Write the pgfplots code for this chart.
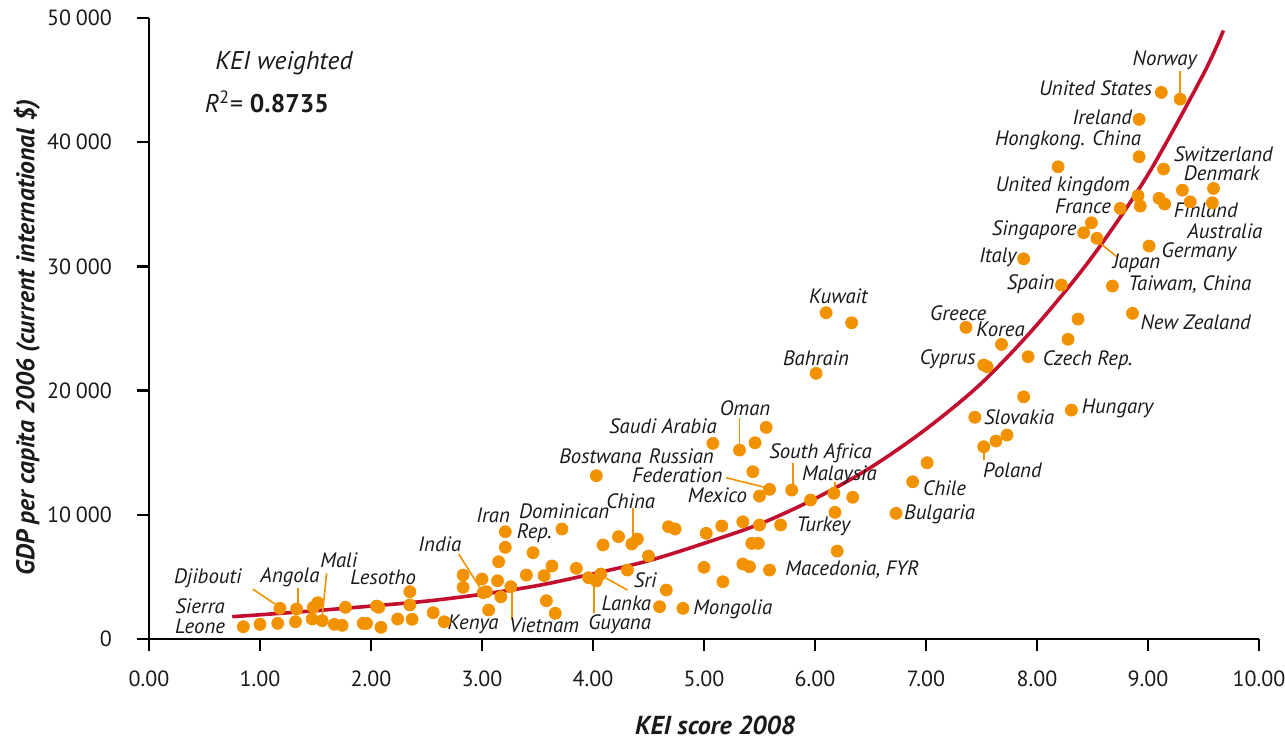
\documentclass[border=0pt]{standalone}
\usepackage{fontspec}
\setmainfont{PT Sans}
\usepackage{pgfplots}
\pgfplotsset{compat=1.18}
\definecolor{dot}{HTML}{F39200}
\definecolor{trend}{HTML}{C20E2F}
\definecolor{txt}{HTML}{1A1A1A}
\pgfplotstableread{
x y
0.85 990
1.00 1180
1.16 1260
1.18 2470
1.32 1390
1.33 2415
1.47 1610
1.48 2550
1.52 2920
1.56 1475
1.67 1180
1.74 1100
1.77 2550
1.93 1260
1.96 1260
2.05 2650
2.07 2550
2.09 940
2.24 1610
2.35 3810
2.35 2740
2.37 1585
2.56 2120
2.66 1390
2.83 5150
2.83 4160
3.00 4830
3.01 3730
3.04 3810
3.06 2330
3.14 4690
3.15 6220
3.17 3400
3.21 7380
3.21 8640
3.26 4210
3.40 5150
3.46 6950
3.56 5100
3.58 3080
3.63 5880
3.66 2070
3.72 8855
3.85 5690
3.96 4935
4.03 4670
4.07 5230
4.09 7570
4.23 8240
4.31 5550
4.35 7650
4.40 8050
4.50 6680
4.60 2600
4.66 3940
4.68 9040
4.74 8855
4.81 2470
5.00 5770
5.02 8510
5.17 4610
5.16 9100
5.35 9440
5.35 6040
5.41 5820
5.43 7700
5.49 7700
5.50 9180
5.59 5550
5.69 9180
5.08 15750
5.32 15210
5.46 15800
5.56 17040
5.44 13470
5.59 12050
5.50 11510
5.79 11990
5.96 11190
6.17 11730
6.34 11410
6.18 10200
6.20 7080
6.73 10120
6.88 12660
7.01 14190
6.10 26270
6.33 25460
6.01 21390
4.03 13150
8.22 28500
8.68 28420
8.37 25760
8.86 26220
7.36 25090
7.68 23720
8.28 24130
7.52 22060
7.55 21920
7.92 22730
7.88 19500
8.31 18430
7.44 17850
7.73 16420
7.63 15940
7.52 15480
9.12 44010
9.29 43470
8.92 41840
8.92 38830
8.19 38020
9.14 37840
8.91 35690
8.93 34860
9.10 35480
9.15 35020
9.31 36140
9.59 36280
9.38 35200
9.58 35120
8.75 34670
8.49 33510
8.42 32710
8.54 32260
9.01 31640
7.88 30610
}\countries
\begin{document}
\begin{tikzpicture}[lab/.style={font=\fontsize{10.4}{12}\selectfont\itshape, text=txt, inner sep=0pt},
  lead/.style={dot, line width=0.8pt}]
\useasboundingbox (-74.5pt,-50pt) rectangle (568pt,319.5pt);
\begin{axis}[
  at={(0pt,0pt)}, anchor=south west,
  scale only axis, width=555pt, height=310.5pt,
  xmin=0, xmax=10, ymin=0, ymax=50000,
  axis lines=left, axis line style={-, line width=1.2pt, black},
  xtick={0,1,...,10}, ytick={0,10000,20000,30000,40000,50000},
  tick align=outside, major tick length=6pt,
  tick style={line width=1.2pt, black},
  scaled y ticks=false, scaled x ticks=false,
  /pgf/number format/assume math mode=true,
  xticklabel={\pgfmathprintnumber[fixed, fixed zerofill, precision=2]{\tick}},
  yticklabel={\pgfmathprintnumber[fixed, precision=0, 1000 sep={\hspace{0.22em}}]{\tick}},
  xticklabel style={anchor=north, yshift=-6.5pt},
  yticklabel style={anchor=east, xshift=-9pt},
  ticklabel style={font=\fontsize{11}{13}\selectfont, text=txt},
  xlabel={\bfseries\itshape KEI score 2008},
  ylabel={\bfseries\itshape GDP per capita 2006 (current international \$)},
  xlabel style={at={(axis description cs:0.51,-0.1385)}, anchor=center, inner sep=0pt, font=\fontsize{13}{15}\selectfont, text=txt},
  ylabel style={at={(axis description cs:-0.110,0.485)}, anchor=center, inner sep=0pt, rotate=0, font=\fontsize{12.8}{15}\selectfont, text=txt},
  clip=false,
]
\addplot[trend, line width=1.8pt, smooth, no marks] coordinates {
(0.75,1800) (1.0,1950) (1.5,2280) (2.0,2650) (2.5,3050) (3.0,3600) (3.5,4300) (4.0,5250) (4.5,6300) (5.0,7700) (5.5,9250) (6.0,11300) (6.5,13800) (7.0,16900) (7.5,20600) (8.0,25300) (8.5,30800) (9.0,37400) (9.5,45500) (9.68,49000)};
\addplot[only marks, color=dot, mark=*, mark size=3.0pt, mark options={draw=dot, fill=dot, line width=0.4pt}] table[x=x, y=y] {\countries};

% leader lines
\draw[lead] (axis cs:9.29,45750) -- (axis cs:9.29,44000);
\draw[lead] (axis cs:8.57,31850) -- (axis cs:8.72,30780);
\draw[lead] (axis cs:7.52,15080) -- (axis cs:7.52,14410);
\draw[lead] (axis cs:5.32,17770) -- (axis cs:5.32,15620);
\draw[lead] (axis cs:5.20,12985) -- (axis cs:5.55,12210);
\draw[lead] (axis cs:5.80,14190) -- (axis cs:5.80,12400);
\draw[lead] (axis cs:6.18,12660) -- (axis cs:6.18,12130);
\draw[lead] (axis cs:4.36,10520) -- (axis cs:4.36,7970);
\draw[lead] (axis cs:2.79,6840) -- (axis cs:2.98,4160);
\draw[lead] (axis cs:3.27,3810) -- (axis cs:3.27,1530);
\draw[lead] (axis cs:4.01,4750) -- (axis cs:4.01,2120);
\draw[lead] (axis cs:4.12,4890) -- (axis cs:4.31,3940);
\draw[lead] (axis cs:1.60,5290) -- (axis cs:1.56,1750);
\draw[lead] (axis cs:1.34,4080) -- (axis cs:1.34,2870);
\draw[lead] (axis cs:0.934,4025) -- (axis cs:1.135,2820);

% labels
\node[lab, anchor=center] at (axis cs:9.15,46600) {Norway};
\node[lab, anchor=east] at (axis cs:9.04,44350) {United States};
\node[lab, anchor=east] at (axis cs:8.86,42000) {Ireland};
\node[lab, anchor=center] at (axis cs:8.28,40170) {Hongkong. China};
\node[lab, anchor=west] at (axis cs:9.23,39040) {Switzerland};
\node[lab, anchor=west] at (axis cs:9.32,37510) {Denmark};
\node[lab, anchor=east] at (axis cs:8.84,36410) {United kingdom};
\node[lab, anchor=east] at (axis cs:8.67,34800) {France};
\node[lab, anchor=west] at (axis cs:9.23,34500) {Finland};
\node[lab, anchor=west] at (axis cs:9.35,32850) {Australia};
\node[lab, anchor=east] at (axis cs:8.36,32870) {Singapore};
\node[lab, anchor=west] at (axis cs:9.12,31150) {Germany};
\node[lab, anchor=west] at (axis cs:8.68,30240) {Japan};
\node[lab, anchor=east] at (axis cs:7.82,30700) {Italy};
\node[lab, anchor=east] at (axis cs:8.16,28550) {Spain};
\node[lab, anchor=west] at (axis cs:8.82,28500) {Taiwam, China};
\node[lab, anchor=west] at (axis cs:8.93,25540) {New Zealand};
\node[lab, anchor=center] at (axis cs:7.29,26270) {Greece};
\node[lab, anchor=west] at (axis cs:7.45,24960) {Korea};
\node[lab, anchor=east] at (axis cs:7.45,22540) {Cyprus};
\node[lab, anchor=west] at (axis cs:8.05,22460) {Czech Rep.};
\node[lab, anchor=west] at (axis cs:8.40,18570) {Hungary};
\node[lab, anchor=west] at (axis cs:7.52,17850) {Slovakia};
\node[lab, anchor=west] at (axis cs:7.51,13600) {Poland};
\node[lab, anchor=west] at (axis cs:6.97,12130) {Chile};
\node[lab, anchor=west] at (axis cs:6.80,10040) {Bulgaria};
\node[lab, anchor=center] at (axis cs:6.21,27560) {Kuwait};
\node[lab, anchor=center] at (axis cs:6.01,22600) {Bahrain};
\node[lab, anchor=center] at (axis cs:5.37,18570) {Oman};
\node[lab, anchor=center] at (axis cs:4.63,17150) {Saudi Arabia};
\node[lab, anchor=east] at (axis cs:4.44,14680) {Bostwana};
\node[lab, anchor=west] at (axis cs:4.50,14680) {Russian};
\node[lab, anchor=center] at (axis cs:4.76,13150) {Federation};
\node[lab, anchor=center] at (axis cs:6.05,14950) {South Africa};
\node[lab, anchor=center] at (axis cs:6.22,13200) {Malaysia};
\node[lab, anchor=east] at (axis cs:5.39,11600) {Mexico};
\node[lab, anchor=west] at (axis cs:5.83,9040) {Turkey};
\node[lab, anchor=west] at (axis cs:5.73,5550) {Macedonia, FYR};
\node[lab, anchor=west] at (axis cs:4.90,2415) {Mongolia};
\node[lab, anchor=center] at (axis cs:4.34,11130) {China};
\node[lab, anchor=center] at (axis cs:3.74,10280) {Dominican};
\node[lab, anchor=west] at (axis cs:3.31,8480) {Rep.};
\node[lab, anchor=center] at (axis cs:3.10,9980) {Iran};
\node[lab, anchor=center] at (axis cs:2.62,7650) {India};
\node[lab, anchor=center] at (axis cs:2.92,1210) {Kenya};
\node[lab, anchor=center] at (axis cs:3.56,1070) {Vietnam};
\node[lab, anchor=center] at (axis cs:4.24,1210) {Guyana};
\node[lab, anchor=center] at (axis cs:4.47,4750) {Sri};
\node[lab, anchor=center] at (axis cs:4.30,2870) {Lanka};
\node[lab, anchor=center] at (axis cs:2.11,4970) {Lesotho};
\node[lab, anchor=center] at (axis cs:1.71,6360) {Mali};
\node[lab, anchor=center] at (axis cs:1.27,4970) {Angola};
\node[lab, anchor=center] at (axis cs:0.53,4890) {Djibouti};
\node[lab, anchor=center] at (axis cs:0.46,2640) {Sierra};
\node[lab, anchor=center] at (axis cs:0.46,1000) {Leone};

\node[font=\fontsize{12.8}{14}\selectfont\itshape, text=txt, anchor=west, inner sep=0pt] at (axis cs:0.595,46370) {KEI weighted};
\node[font=\fontsize{12.8}{14}\selectfont, text=txt, anchor=west, inner sep=0pt] at (axis cs:0.50,43230) {\textit{R}\textsuperscript{2}= \textbf{0.8735}};
\end{axis}
\end{tikzpicture}
\end{document}
